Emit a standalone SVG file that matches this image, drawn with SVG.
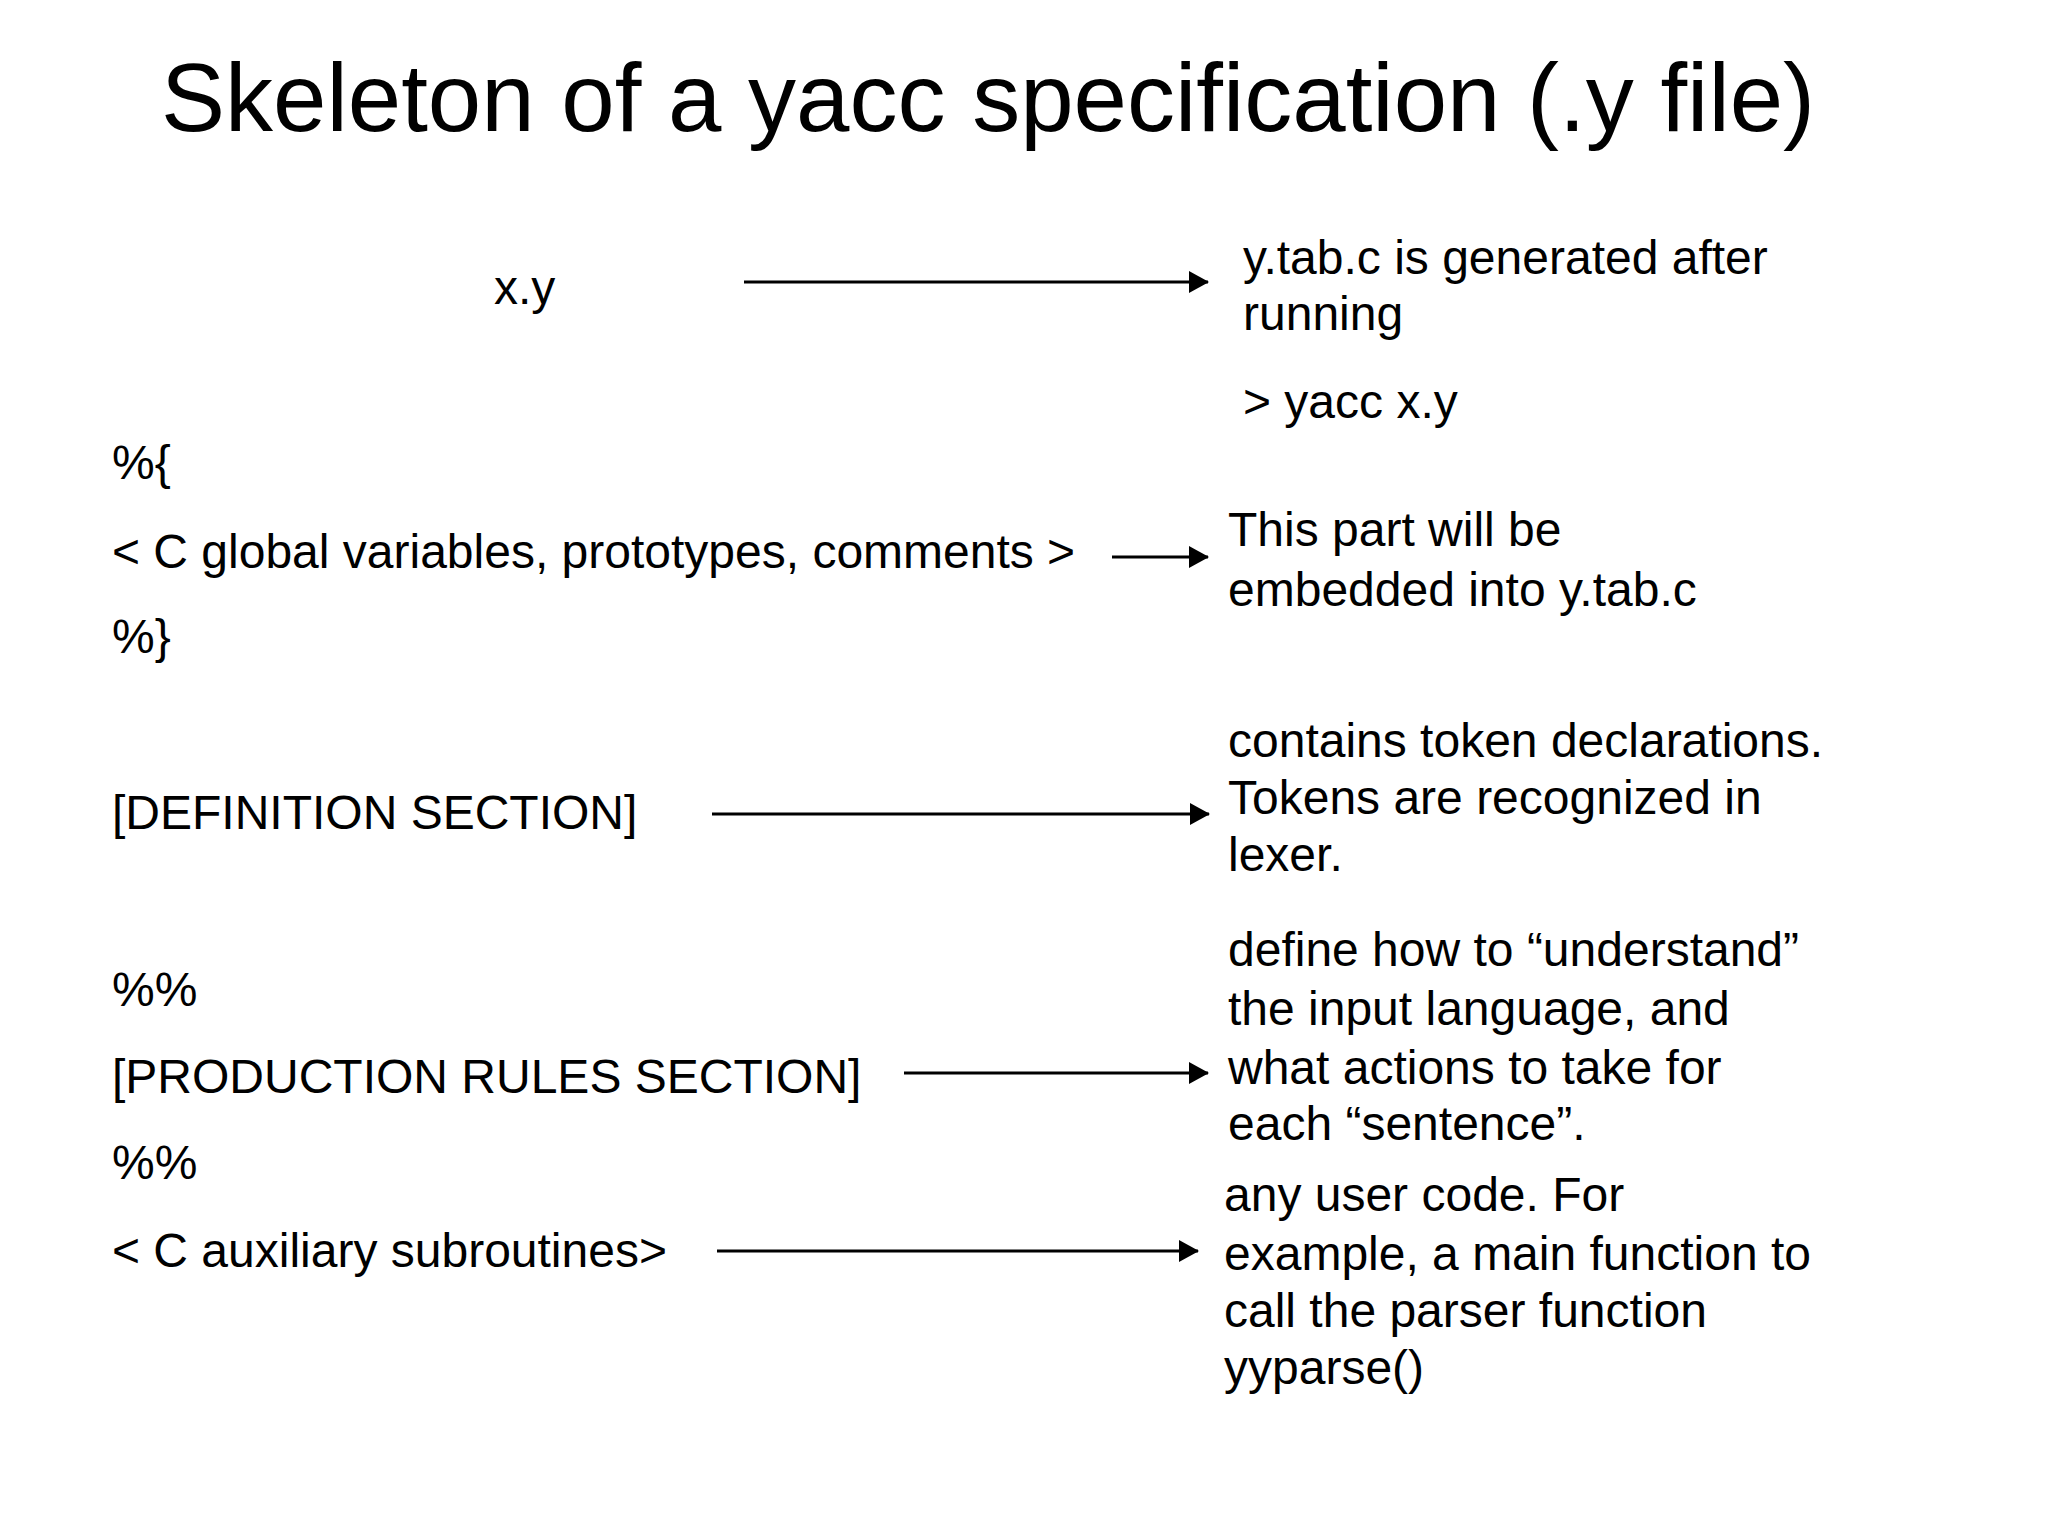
<svg xmlns="http://www.w3.org/2000/svg" width="2048" height="1536" viewBox="0 0 2048 1536">
<style>
text{font-family:"Liberation Sans",Arial,sans-serif;fill:#000}
.t{font-size:96px}
.b{font-size:48px}
.c{stroke:#000;stroke-width:3;fill:none}
</style>
<defs>
<marker id="ah" viewBox="0 0 20 22" refX="19" refY="11" markerWidth="20" markerHeight="22" orient="auto" markerUnits="userSpaceOnUse">
<path d="M0,0 L20,11 L0,22 z" fill="#000"/>
</marker>
</defs>
<rect width="2048" height="1536" fill="#fff"/>
<g id="title"><text class="t" x="161" y="131">Skeleton of a yacc specification (.y file)</text></g>
<g id="n-xy"><text class="b" x="494" y="304">x.y</text></g>
<g id="n-ytab"><text class="b" x="1243" y="274">y.tab.c is generated after</text><text class="b" x="1243" y="330">running</text><text class="b" x="1243" y="418">&gt; yacc x.y</text></g>
<g id="n-cglobal"><text class="b" x="112" y="479">%{</text><text class="b" x="112" y="568">&lt; C global variables, prototypes, comments &gt;</text><text class="b" x="112" y="653">%}</text></g>
<g id="n-embed"><text class="b" x="1228" y="546">This part will be</text><text class="b" x="1228" y="606">embedded into y.tab.c</text></g>
<g id="n-def"><text class="b" x="112" y="829">[DEFINITION SECTION]</text></g>
<g id="n-tokens"><text class="b" x="1228" y="757">contains token declarations.</text><text class="b" x="1228" y="814">Tokens are recognized in</text><text class="b" x="1228" y="871">lexer.</text></g>
<g id="n-prod"><text class="b" x="112" y="1006">%%</text><text class="b" x="112" y="1093">[PRODUCTION RULES SECTION]</text><text class="b" x="112" y="1179">%%</text></g>
<g id="n-define"><text class="b" x="1228" y="966">define how to “understand”</text><text class="b" x="1228" y="1025">the input language, and</text><text class="b" x="1228" y="1084">what actions to take for</text><text class="b" x="1228" y="1140">each “sentence”.</text></g>
<g id="n-aux"><text class="b" x="112" y="1267">&lt; C auxiliary subroutines&gt;</text></g>
<g id="n-user"><text class="b" x="1224" y="1211">any user code. For</text><text class="b" x="1224" y="1270">example, a main function to</text><text class="b" x="1224" y="1327">call the parser function</text><text class="b" x="1224" y="1384">yyparse()</text></g>
<g id="connectors">
<line class="c" x1="744" y1="282" x2="1208" y2="282" marker-end="url(#ah)"/>
<line class="c" x1="1112" y1="557" x2="1208" y2="557" marker-end="url(#ah)"/>
<line class="c" x1="712" y1="814" x2="1209" y2="814" marker-end="url(#ah)"/>
<line class="c" x1="904" y1="1073" x2="1208" y2="1073" marker-end="url(#ah)"/>
<line class="c" x1="717" y1="1251" x2="1198" y2="1251" marker-end="url(#ah)"/>
</g>
</svg>
